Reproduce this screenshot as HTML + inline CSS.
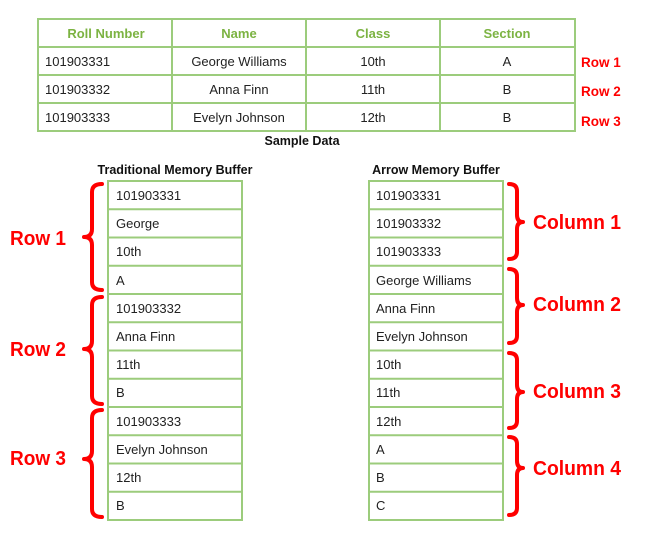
<!DOCTYPE html>
<html><head><meta charset="utf-8"><style>
html,body{margin:0;padding:0;background:#fff;width:660px;height:540px;overflow:hidden}
svg{display:block}
text{font-family:"Liberation Sans",Arial,sans-serif}
.g{fill:none;stroke:#9ccc7c;stroke-width:2}
.t{font-size:13px;fill:#222}
.h{font-size:13px;font-weight:bold;fill:#7cb342}
.r{fill:none;stroke:#ff0000;stroke-width:4;stroke-linecap:round;stroke-linejoin:round}
.big{font-size:20px;font-weight:bold;fill:#ff0000}
.sm{font-size:13.5px;font-weight:bold;fill:#ff0000}
.ti{font-size:12.5px;font-weight:bold;fill:#111}
</style></head><body>
<svg width="660" height="540" viewBox="0 0 660 540">
<rect x="38" y="19" width="537" height="112" class="g"/>
<line x1="38" y1="47" x2="575" y2="47" class="g"/>
<line x1="38" y1="75" x2="575" y2="75" class="g"/>
<line x1="38" y1="103" x2="575" y2="103" class="g"/>
<line x1="172" y1="19" x2="172" y2="131" class="g"/>
<line x1="306" y1="19" x2="306" y2="131" class="g"/>
<line x1="440" y1="19" x2="440" y2="131" class="g"/>
<g text-anchor="middle">
<text x="106" y="38" class="h">Roll Number</text>
<text x="239" y="38" class="h">Name</text>
<text x="373" y="38" class="h">Class</text>
<text x="507" y="38" class="h">Section</text>
<text x="239" y="66" class="t">George Williams</text>
<text x="239" y="94" class="t">Anna Finn</text>
<text x="239" y="122" class="t">Evelyn Johnson</text>
<text x="373" y="66" class="t">10th</text>
<text x="373" y="94" class="t">11th</text>
<text x="373" y="122" class="t">12th</text>
<text x="507" y="66" class="t">A</text>
<text x="507" y="94" class="t">B</text>
<text x="507" y="122" class="t">B</text>
<text x="302" y="145" class="ti">Sample Data</text>
<text x="175" y="174" class="ti">Traditional Memory Buffer</text>
<text x="436" y="174" class="ti">Arrow Memory Buffer</text>
</g>
<text x="45" y="66" class="t">101903331</text>
<text x="45" y="94" class="t">101903332</text>
<text x="45" y="122" class="t">101903333</text>
<text x="581" y="67" class="sm">Row 1</text>
<text x="581" y="96" class="sm">Row 2</text>
<text x="581" y="126" class="sm">Row 3</text>

<rect x="108" y="181" width="134" height="339" class="g"/>
<g class="g">
<line x1="108" y1="209.25" x2="242" y2="209.25"/><line x1="108" y1="237.5" x2="242" y2="237.5"/>
<line x1="108" y1="265.75" x2="242" y2="265.75"/><line x1="108" y1="294" x2="242" y2="294"/>
<line x1="108" y1="322.25" x2="242" y2="322.25"/><line x1="108" y1="350.5" x2="242" y2="350.5"/>
<line x1="108" y1="378.75" x2="242" y2="378.75"/><line x1="108" y1="407" x2="242" y2="407"/>
<line x1="108" y1="435.25" x2="242" y2="435.25"/><line x1="108" y1="463.5" x2="242" y2="463.5"/>
<line x1="108" y1="491.75" x2="242" y2="491.75"/>
</g>
<g class="t">
<text x="116" y="200">101903331</text>
<text x="116" y="228">George</text>
<text x="116" y="256">10th</text>
<text x="116" y="285">A</text>
<text x="116" y="313">101903332</text>
<text x="116" y="341">Anna Finn</text>
<text x="116" y="369">11th</text>
<text x="116" y="397">B</text>
<text x="116" y="426">101903333</text>
<text x="116" y="454">Evelyn Johnson</text>
<text x="116" y="482">12th</text>
<text x="116" y="510">B</text>
</g>
<rect x="369" y="181" width="134" height="339" class="g"/>
<g class="g">
<line x1="369" y1="209.25" x2="503" y2="209.25"/><line x1="369" y1="237.5" x2="503" y2="237.5"/>
<line x1="369" y1="265.75" x2="503" y2="265.75"/><line x1="369" y1="294" x2="503" y2="294"/>
<line x1="369" y1="322.25" x2="503" y2="322.25"/><line x1="369" y1="350.5" x2="503" y2="350.5"/>
<line x1="369" y1="378.75" x2="503" y2="378.75"/><line x1="369" y1="407" x2="503" y2="407"/>
<line x1="369" y1="435.25" x2="503" y2="435.25"/><line x1="369" y1="463.5" x2="503" y2="463.5"/>
<line x1="369" y1="491.75" x2="503" y2="491.75"/>
</g>
<g class="t">
<text x="376" y="200">101903331</text>
<text x="376" y="228">101903332</text>
<text x="376" y="256">101903333</text>
<text x="376" y="285">George Williams</text>
<text x="376" y="313">Anna Finn</text>
<text x="376" y="341">Evelyn Johnson</text>
<text x="376" y="369">10th</text>
<text x="376" y="397">11th</text>
<text x="376" y="426">12th</text>
<text x="376" y="454">A</text>
<text x="376" y="482">B</text>
<text x="376" y="510">C</text>
</g>

<path class="r" d="M102 184 Q92 184 92 192 L92 229 Q92 237 84 237 Q92 237 92 245 L92 282 Q92 290 102 290"/>
<path class="r" d="M102 297 Q92 297 92 305 L92 341 Q92 349 84 349 Q92 349 92 357 L92 396 Q92 404 102 404"/>
<path class="r" d="M102 410 Q92 410 92 418 L92 451 Q92 459 84 459 Q92 459 92 467 L92 509 Q92 517 102 517"/>
<text x="10" y="245" class="big" textLength="56" lengthAdjust="spacingAndGlyphs">Row 1</text>
<text x="10" y="356" class="big" textLength="56" lengthAdjust="spacingAndGlyphs">Row 2</text>
<text x="10" y="465" class="big" textLength="56" lengthAdjust="spacingAndGlyphs">Row 3</text>

<path class="r" d="M509 184 Q517 184 517 191 L517 215 Q517 222 523 222 Q517 222 517 229 L517 252 Q517 259 509 259"/>
<path class="r" d="M509 269 Q517 269 517 276 L517 298 Q517 305 523 305 Q517 305 517 312 L517 336 Q517 343 509 343"/>
<path class="r" d="M509 353 Q517 353 517 360 L517 385 Q517 392 523 392 Q517 392 517 399 L517 421 Q517 428 509 428"/>
<path class="r" d="M509 437 Q517 437 517 444 L517 461 Q517 468 523 468 Q517 468 517 475 L517 508 Q517 515 509 515"/>
<text x="533" y="229" class="big" textLength="88" lengthAdjust="spacingAndGlyphs">Column 1</text>
<text x="533" y="311" class="big" textLength="88" lengthAdjust="spacingAndGlyphs">Column 2</text>
<text x="533" y="398" class="big" textLength="88" lengthAdjust="spacingAndGlyphs">Column 3</text>
<text x="533" y="475" class="big" textLength="88" lengthAdjust="spacingAndGlyphs">Column 4</text>
</svg>
</body></html>
